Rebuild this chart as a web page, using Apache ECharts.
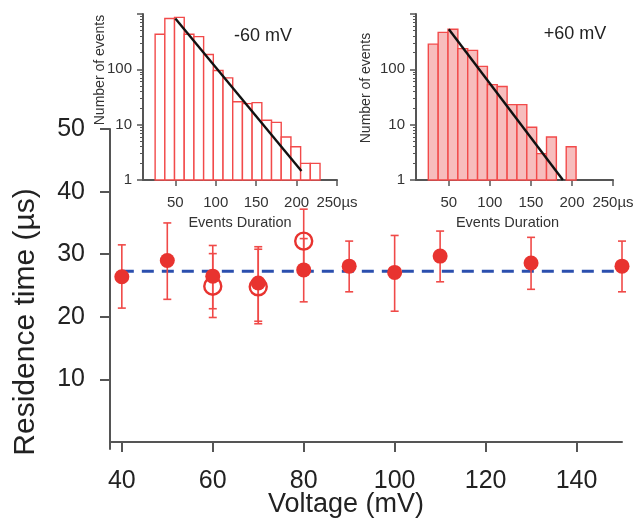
<!DOCTYPE html>
<html>
<head>
<meta charset="utf-8">
<script src="https://cdn.jsdelivr.net/npm/echarts@6/dist/echarts.min.js"></script>
<style>
  html, body { margin: 0; padding: 0; background: #fff; }
  #chart { width: 635px; height: 523px; }
</style>
</head>
<body>
<div id="chart"></div>
<script>
// Residence time vs. applied voltage (filled and open symbols), mean level
const voltage = [40, 50, 60, 70, 80, 90, 100, 110, 130, 150];
const residence = [26.4, 29.0, 26.5, 25.4, 27.5, 28.1, 27.1, 29.7, 28.6, 28.1];
const residenceLow = [21.4, 22.8, 21.3, 19.3, 22.4, 24.0, 20.9, 25.6, 24.4, 24.0];
const residenceHigh = [31.5, 35.0, 31.4, 31.2, 32.5, 32.1, 33.0, 33.7, 32.7, 32.1];

const voltageOpen = [60, 70, 80];
const residenceOpen = [24.9, 24.8, 32.1];
const residenceOpenLow = [19.9, 18.9, 27.1];
const residenceOpenHigh = [30.1, 30.8, 37.2];

const meanResidence = 27.3;
const meanSpan = [40, 150];

const voltageTicks = [40, 60, 80, 100, 120, 140];
const residenceTicks = [10, 20, 30, 40, 50];

// Event duration histograms (µs bins, log counts)
const binStart = 25;
const binWidth = 12;
const countsNeg60 = [430, 830, 870, 430, 390, 185, 95, 70, 26, 24, 25, 12, 11, 6, 4, 2, 2];
const countsPos60 = [285, 465, 530, 237, 220, 113, 53, 49, 23, 23, 9, 3, 6, 0, 4];
const fitNeg60 = [[50, 830], [206, 1.45]];
const fitPos60 = [[50, 530], [189, 1]];

const durationTicks = [50, 100, 150, 200, 250];
const countMajorTicks = [1, 10, 100, 1000];
const countLabels = [1, 10, 100];
const countMinorTicks = [];
[1, 10, 100].forEach(d => { for (let k = 2; k <= 9; k++) countMinorTicks.push(d * k); });

const FONT = 'Liberation Sans, Arial, sans-serif';
const RED = '#e8332f';
const BAR_RED = '#f24a4a';
const AXIS = '#555';

const toBins = counts => counts
  .map((c, i) => [binStart + i * binWidth, binStart + (i + 1) * binWidth, c])
  .filter(d => d[2] > 0);

const errData = (xs, lo, hi) => xs.map((x, i) => [x, lo[i], hi[i]]);
const pts = (xs, ys) => xs.map((x, i) => [x, ys[i]]);

function renderErrorBar(params, api) {
  const x = api.value(0);
  const a = api.coord([x, api.value(1)]);
  const b = api.coord([x, api.value(2)]);
  const w = 4;
  const style = { stroke: '#f04a48', lineWidth: 1.6 };
  return {
    type: 'group',
    children: [
      { type: 'line', shape: { x1: a[0], y1: a[1], x2: b[0], y2: b[1] }, style },
      { type: 'line', shape: { x1: a[0] - w, y1: a[1], x2: a[0] + w, y2: a[1] }, style },
      { type: 'line', shape: { x1: b[0] - w, y1: b[1], x2: b[0] + w, y2: b[1] }, style }
    ]
  };
}

function histRenderer(fill) {
  return function (params, api) {
    const p0 = api.coord([api.value(0), api.value(2)]);
    const p1 = api.coord([api.value(1), 1]);
    return {
      type: 'rect',
      shape: { x: p0[0], y: p0[1], width: p1[0] - p0[0], height: p1[1] - p0[1] },
      style: { fill: fill, stroke: BAR_RED, lineWidth: 1.4 }
    };
  };
}

function insetXAxis(gridIndex, namePad) {
  return {
    type: 'value', gridIndex, min: 10, max: 250,
    name: 'Events Duration', nameLocation: 'middle', nameGap: 35, nameMoveOverlap: false,
    nameTextStyle: { fontFamily: FONT, fontSize: 14.5, color: '#333', padding: namePad },
    axisLine: { lineStyle: { color: AXIS, width: 2 } },
    axisTick: { customValues: durationTicks, length: 6, lineStyle: { color: AXIS, width: 1.5 } },
    axisLabel: {
      customValues: durationTicks, margin: 15,
      fontFamily: FONT, fontSize: 15, color: '#333',
      formatter: v => (v === 250 ? '250µs' : String(v))
    },
    splitLine: { show: false }
  };
}

function insetYAxes(gridIndex, nameGap, namePad) {
  return [{
    type: 'log', logBase: 10, gridIndex, min: 1, max: 1000, position: 'left',
    name: 'Number of events', nameLocation: 'middle', nameGap, nameMoveOverlap: false,
    nameTextStyle: { fontFamily: FONT, fontSize: 14, color: '#333', padding: namePad },
    axisLine: { show: true, lineStyle: { color: AXIS, width: 2 } },
    axisTick: { customValues: countMajorTicks, length: 6, lineStyle: { color: AXIS, width: 1.5 } },
    axisLabel: { customValues: countLabels, margin: 11, fontFamily: FONT, fontSize: 15, color: '#333' },
    splitLine: { show: false }
  }, {
    type: 'log', logBase: 10, gridIndex, min: 1, max: 1000, position: 'left', offset: 0,
    axisLine: { show: false },
    axisTick: { customValues: countMinorTicks, length: 3, lineStyle: { color: AXIS, width: 1 } },
    axisLabel: { show: false },
    splitLine: { show: false }
  }];
}

const chart = echarts.init(document.getElementById('chart'), null, { renderer: 'canvas' });

chart.setOption({
  animation: false,
  backgroundColor: '#fff',
  grid: [
    { left: 110, top: 129, right: 13, bottom: 74, containLabel: false, outerBoundsMode: 'none' },
    { left: 143, top: 14, width: 194, height: 166, containLabel: false, outerBoundsMode: 'none' },
    { left: 416, top: 14, width: 197, height: 166, containLabel: false, outerBoundsMode: 'none' }
  ],
  xAxis: [
    {
      type: 'value', gridIndex: 0, min: 37.4, max: 150,
      name: 'Voltage (mV)', nameLocation: 'middle', nameGap: 42, nameMoveOverlap: false,
      nameTextStyle: { fontFamily: FONT, fontSize: 27, color: '#222', padding: [0, 40, 0, 0] },
      axisLine: { lineStyle: { color: AXIS, width: 2 } },
      axisTick: { customValues: voltageTicks, length: 10, lineStyle: { color: AXIS, width: 2 } },
      axisLabel: { customValues: voltageTicks, margin: 20, fontFamily: FONT, fontSize: 25, color: '#222' },
      splitLine: { show: false }
    },
    insetXAxis(1, [0, 0, 0, 0]),
    insetXAxis(2, [0, 14, 0, 0])
  ],
  yAxis: [
    {
      type: 'value', gridIndex: 0, min: -1.1, max: 50,
      name: 'Residence time (µs)', nameLocation: 'middle', nameGap: 69, nameMoveOverlap: false,
      nameTextStyle: { fontFamily: FONT, fontSize: 30, color: '#222', padding: [0, 66, 0, 0] },
      axisLine: { show: true, lineStyle: { color: AXIS, width: 2 } },
      axisTick: { customValues: residenceTicks, length: 10, lineStyle: { color: AXIS, width: 2 } },
      axisLabel: { customValues: residenceTicks, margin: 25, fontFamily: FONT, fontSize: 25, color: '#222' },
      splitLine: { show: false }
    },
    ...insetYAxes(1, 36, [0, 0, 0, 54]),
    ...insetYAxes(2, 43, [0, 0, 0, 18])
  ],
  series: [
    {
      type: 'line', xAxisIndex: 0, yAxisIndex: 0, z: 2,
      data: meanSpan.map(x => [x, meanResidence]),
      symbol: 'none',
      lineStyle: { color: '#2b4fae', width: 3, type: [12, 8] }
    },
    {
      type: 'custom', xAxisIndex: 0, yAxisIndex: 0, z: 3,
      renderItem: renderErrorBar,
      data: errData(voltageOpen, residenceOpenLow, residenceOpenHigh)
    },
    {
      type: 'custom', xAxisIndex: 0, yAxisIndex: 0, z: 3,
      renderItem: renderErrorBar,
      data: errData(voltage, residenceLow, residenceHigh)
    },
    {
      type: 'scatter', xAxisIndex: 0, yAxisIndex: 0, z: 4,
      data: pts(voltageOpen, residenceOpen),
      symbol: 'circle', symbolSize: 17,
      itemStyle: { color: 'rgba(255,255,255,0)', borderColor: RED, borderWidth: 2.4, opacity: 1 }
    },
    {
      type: 'scatter', xAxisIndex: 0, yAxisIndex: 0, z: 5,
      data: pts(voltage, residence),
      symbol: 'circle', symbolSize: 15,
      itemStyle: { color: RED, opacity: 1 }
    },
    {
      type: 'custom', xAxisIndex: 1, yAxisIndex: 1, z: 3,
      renderItem: histRenderer('#ffffff'),
      data: toBins(countsNeg60)
    },
    {
      type: 'line', xAxisIndex: 1, yAxisIndex: 1, z: 4,
      data: fitNeg60, symbol: 'none',
      lineStyle: { color: '#111', width: 2.4 }
    },
    {
      type: 'custom', xAxisIndex: 2, yAxisIndex: 3, z: 3,
      renderItem: histRenderer('#f7bdbd'),
      data: toBins(countsPos60)
    },
    {
      type: 'line', xAxisIndex: 2, yAxisIndex: 3, z: 4,
      data: fitPos60, symbol: 'none',
      lineStyle: { color: '#111', width: 2.4 }
    }
  ],
  graphic: [
    {
      type: 'text', x: 263, y: 36, z: 10,
      style: { text: '-60 mV', fontFamily: FONT, fontSize: 18, fill: '#222', align: 'center', verticalAlign: 'middle' }
    },
    {
      type: 'text', x: 575, y: 34, z: 10,
      style: { text: '+60 mV', fontFamily: FONT, fontSize: 18, fill: '#222', align: 'center', verticalAlign: 'middle' }
    }
  ]
});
</script>
</body>
</html>
